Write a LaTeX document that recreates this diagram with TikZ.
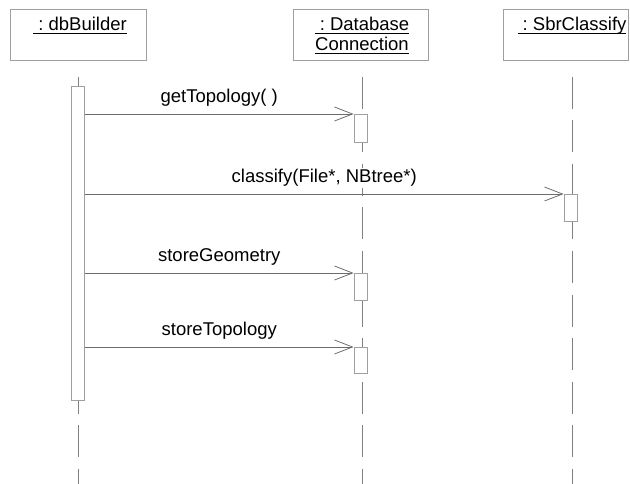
\documentclass[tikz,border=0pt]{standalone}
\usepackage{fontspec}
\setmainfont{Liberation Sans}
\usetikzlibrary{arrows.meta}
\frenchspacing

% object name with a rule just under the baseline
\newcommand{\objname}[1]{\setbox0\hbox{#1}\rlap{\rule[-2.4pt]{\wd0}{0.7pt}}\box0}

\tikzset{
	obj/.style={draw=gray!75, fill=white, line width=0.8pt, minimum height=51pt, inner sep=0pt},
	lifeline/.style={gray, line width=0.8pt, dash pattern=on 32pt off 11.5pt},
	actbar/.style={draw=gray!75, fill=white, line width=0.8pt, minimum width=13pt, inner sep=0pt, anchor=north},
	msg/.style={gray!85!black, line width=0.8pt, -{Straight Barb[length=18pt,width=14pt,line width=0.8pt]}},
	lbl/.style={anchor=base, inner sep=0pt, text=black, font=\fontsize{18.5}{21}\selectfont},
	msglbl/.style={lbl, fill=white, inner sep=1.5pt},
}

\begin{document}
\begin{tikzpicture}[x=1pt, y=-1pt]
	\useasboundingbox (0,0) rectangle (630,484);

	% objects
	\node[obj, minimum width=136pt] (builder) at (78,34.5) {};
	\node[obj, minimum width=135pt] (conn) at (360.5,34.5) {};
	\node[obj, minimum width=125pt] (sbr) at (565.5,34.5) {};
	\node[lbl] (builderName) at (80,31) {\objname{\ : dbBuilder}};
	\node[lbl] (connName) at (362,31) {\objname{\ : Database}};
	\node[lbl] (connName2) at (362,51) {\objname{Connection}};
	\node[lbl] (sbrName) at (572,31) {\objname{\ : SbrClassify}};

	% lifelines
	\foreach \x/\n in {78/builder, 362/conn, 572/sbr}{
		\coordinate (\n Top) at (\x,77);
		\coordinate (\n End) at (\x,484);
		\draw[lifeline] (\n Top) -- (\n End);
	}

	% activations
	\node[actbar, minimum height=314pt] (builderAct) at (78,86) {};
	\node[actbar, minimum height=28pt] (connAct1) at (360.5,114) {};
	\node[actbar, minimum height=27pt] (sbrAct) at (570.5,194) {};
	\node[actbar, minimum height=27pt] (connAct2) at (360.5,273) {};
	\node[actbar, minimum height=26pt] (connAct3) at (360.5,347) {};

	% messages
	\foreach \t/\n in {getTopology( )/connAct1, {classify(File*, NBtree*)}/sbrAct, storeGeometry/connAct2, storeTopology/connAct3}{
		\draw[msg] (builderAct.east |- \n.north) -- (\n.north west)
			node[msglbl, pos=0.5, yshift=11.5pt] {\t};
	}
\end{tikzpicture}
\end{document}
